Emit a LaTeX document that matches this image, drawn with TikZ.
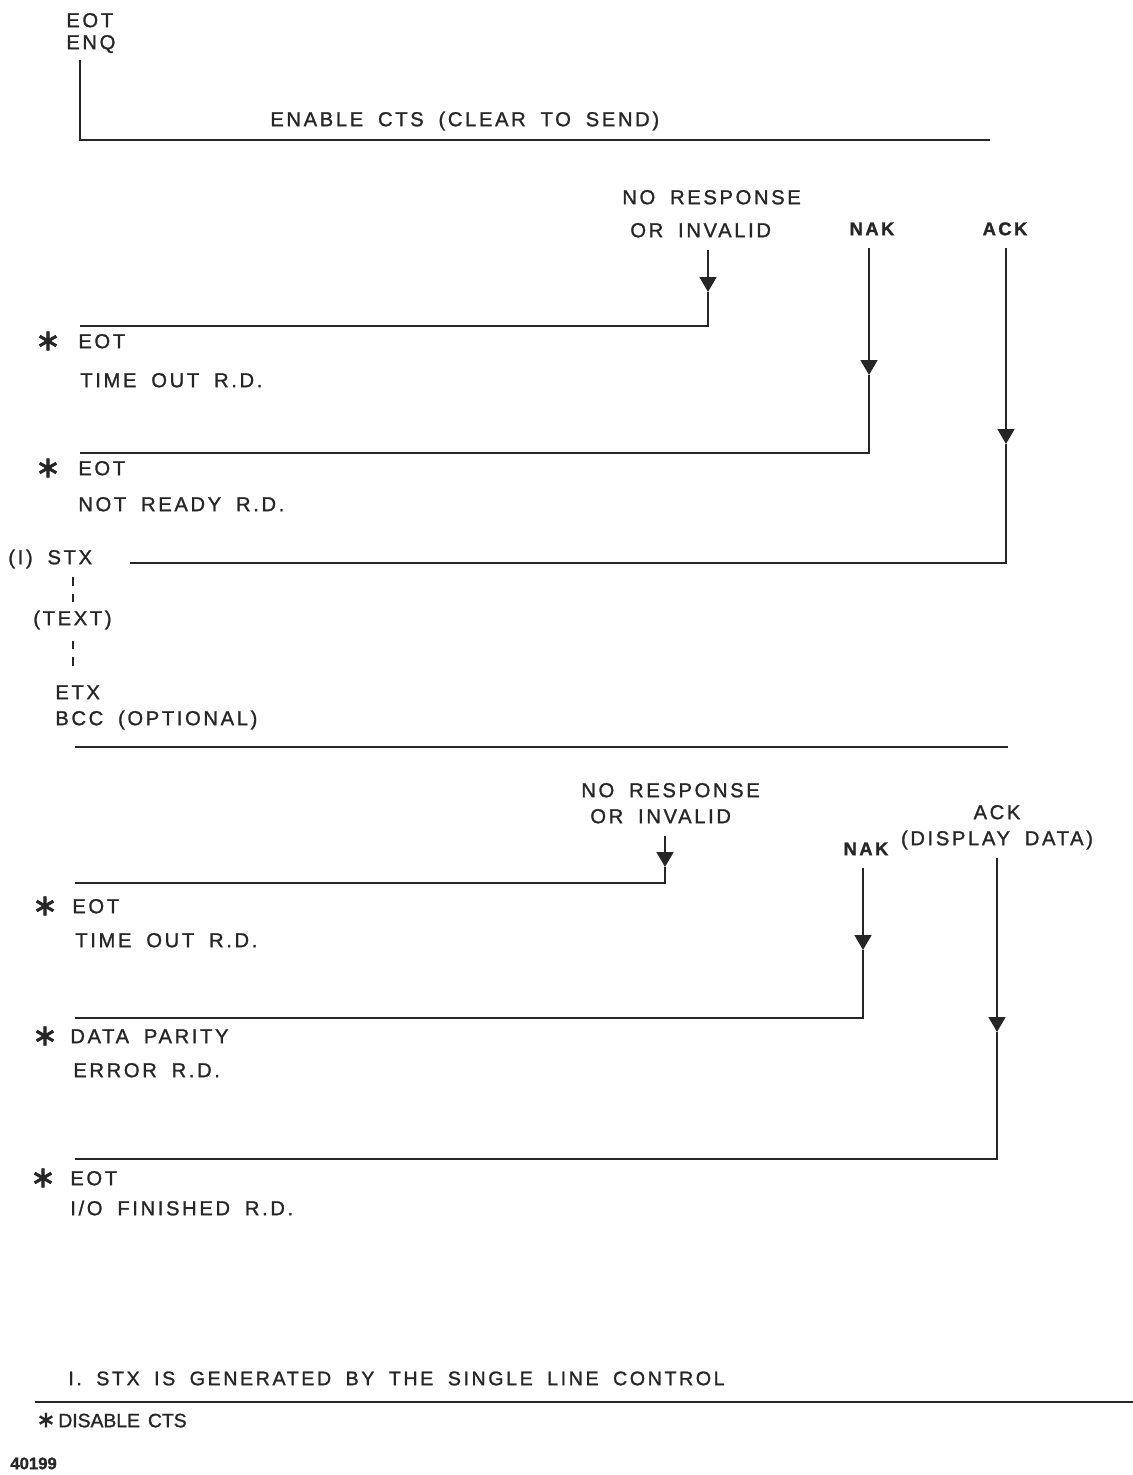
\documentclass[tikz,border=0pt]{standalone}
\usepackage{fontspec}
\setmainfont{Liberation Sans}[LetterSpace=13, WordSpace=1.8, FakeBold=1.2]
\newfontfamily\plainlettering{Liberation Sans}[WordSpace=1.5, FakeBold=1.2]
\newfontfamily\starfont{DejaVu Sans}[FakeBold=2]
\usetikzlibrary{arrows.meta}

\newcommand\starmark{{\starfont\fontsize{17}{17}\selectfont ∗}}

\begin{document}
\begin{tikzpicture}[
  x=0.02cm, y=-0.02cm,
  color=black!85,
  lbl/.style = {
    font=\fontsize{11.5}{14}\selectfont,
    anchor=west, inner sep=0pt,
    text height=8.2pt, text depth=0pt
  },
  tag/.style = {
    lbl, anchor=center,
    font=\fontsize{10.5}{12}\selectfont\bfseries
  },
  astx/.style = {
    inner sep=0pt
  },
  wire/.style = {
    draw, line width=1.3pt
  },
  flow/.style = {
    wire, -{Triangle[width=9.5pt,length=8.5pt]}, shorten <=7pt
  },
  dashline/.style = {
    line width=1.1pt, dash pattern=on 5pt off 4.5pt
  }
]

\fill[white] (0,0) rectangle (1133,1475);
\useasboundingbox (0,0) rectangle (1133,1475);

% ====== POLL / ENABLE CTS ======
\node[lbl] (eot0) at (66,20) {EOT};
\node[lbl] (enq0) at (66,42) {ENQ};
\node[lbl] (cts) at (270,119) {ENABLE CTS (CLEAR TO SEND)};
\coordinate (ctsEnd) at (990,140);
\draw[wire, shorten <=6pt] (enq0.south -| 80,0) |- (ctsEnd);

% ====== FIRST RESPONSES ======
\node[lbl] (nr1a) at (622,197) {NO RESPONSE};
\node[lbl] (nr1b) at (630,230) {OR INVALID};
\node[tag] (nak1) at (872,228) {NAK};
\node[tag] (ack1) at (1005,228) {ACK};

\coordinate (tip1) at (708,292);
\coordinate (end1) at (80,326);
\coordinate (tip2) at (869,375);
\coordinate (end2) at (80,453);
\coordinate (tip3) at (1006,444);
\coordinate (end3) at (130,563);

\node[astx] (s1) at (48,341) {\starmark};
\node[lbl] (eot1) at (78,341) {EOT};
\node[lbl] (tmo1) at (80,380) {TIME OUT R.D.};
\node[astx] (s2) at (48,468) {\starmark};
\node[lbl] (eot2) at (78,468) {EOT};
\node[lbl] (nrd) at (78,504) {NOT READY R.D.};

% ====== TEXT BLOCK ======
\node[lbl] (stx) at (8,557) {(I) STX};
\node[lbl] (txt) at (33,618) {(TEXT)};
\node[lbl] (etx) at (55,692) {ETX};
\node[lbl] (bcc) at (55,718) {BCC (OPTIONAL)};
\coordinate (sepL) at (75,747);
\coordinate (sepR) at (1008,747);

% ====== SECOND RESPONSES ======
\node[lbl] (nr2a) at (581,790) {NO RESPONSE};
\node[lbl] (nr2b) at (590,816) {OR INVALID};
\node[lbl, anchor=center] (ack2) at (997,812) {ACK};
\node[lbl, anchor=center] (dd) at (997,838) {(DISPLAY DATA)};
\node[tag] (nak2) at (866,848) {NAK};

\coordinate (tip5) at (665,867);
\coordinate (end5) at (75,883);
\coordinate (tip6) at (863,950);
\coordinate (end6) at (75,1018);
\coordinate (tip7) at (997,1032);
\coordinate (end7) at (75,1159);

\node[astx] (s3) at (45,906) {\starmark};
\node[lbl] (eot3) at (72,906) {EOT};
\node[lbl] (tmo3) at (75,940) {TIME OUT R.D.};
\node[astx] (s4) at (45,1036) {\starmark};
\node[lbl] (dp) at (70,1036) {DATA PARITY};
\node[lbl] (err) at (73,1070) {ERROR R.D.};
\node[astx] (s5) at (43,1178) {\starmark};
\node[lbl] (eot4) at (70,1178) {EOT};
\node[lbl] (fin) at (70,1208) {I/O FINISHED R.D.};

% ====== NOTES ======
\node[lbl, font=\fontsize{11.2}{13}\selectfont] (note) at (68,1378)
  {I. STX IS GENERATED BY THE SINGLE LINE CONTROL};
\coordinate (ruleL) at (35,1402);
\coordinate (ruleR) at (1133,1402);
\node[astx, scale=0.75] (s6) at (46,1420) {\starmark};
\node[lbl, font=\plainlettering\fontsize{11}{13}\selectfont] (dis) at (58,1420) {DISABLE CTS};
\node[lbl, font=\plainlettering\bfseries\fontsize{9.5}{11}\selectfont] (num) at (10,1462) {40199};

% ====== ARROWS ======
% first poll answers
\draw[flow] (nr1b.south -| tip1) -- (tip1);
\draw[wire] (tip1) |- (end1);
\draw[flow] (nak1.south -| tip2) -- (tip2);
\draw[wire] (tip2) |- (end2);
\draw[flow] (ack1.south -| tip3) -- (tip3);
\draw[wire] (tip3) |- (end3);

% text block
\draw[dashline, shorten <=7pt, shorten >=5pt] (stx.south -| 73,0) -- (txt.north -| 73,0);
\draw[dashline, shorten <=8.5pt, shorten >=10pt] (txt.south -| 73,0) -- (etx.north -| 73,0);
\draw[wire] (sepL) -- (sepR);

% answers to the text
\draw[flow] (nr2b.south -| tip5) -- (tip5);
\draw[wire] (tip5) |- (end5);
\draw[flow] (nak2.south -| tip6) -- (tip6);
\draw[wire] (tip6) |- (end6);
\draw[flow] (dd.south -| tip7) -- (tip7);
\draw[wire] (tip7) |- (end7);

\draw[wire] (ruleL) -- (ruleR);

\end{tikzpicture}
\end{document}
